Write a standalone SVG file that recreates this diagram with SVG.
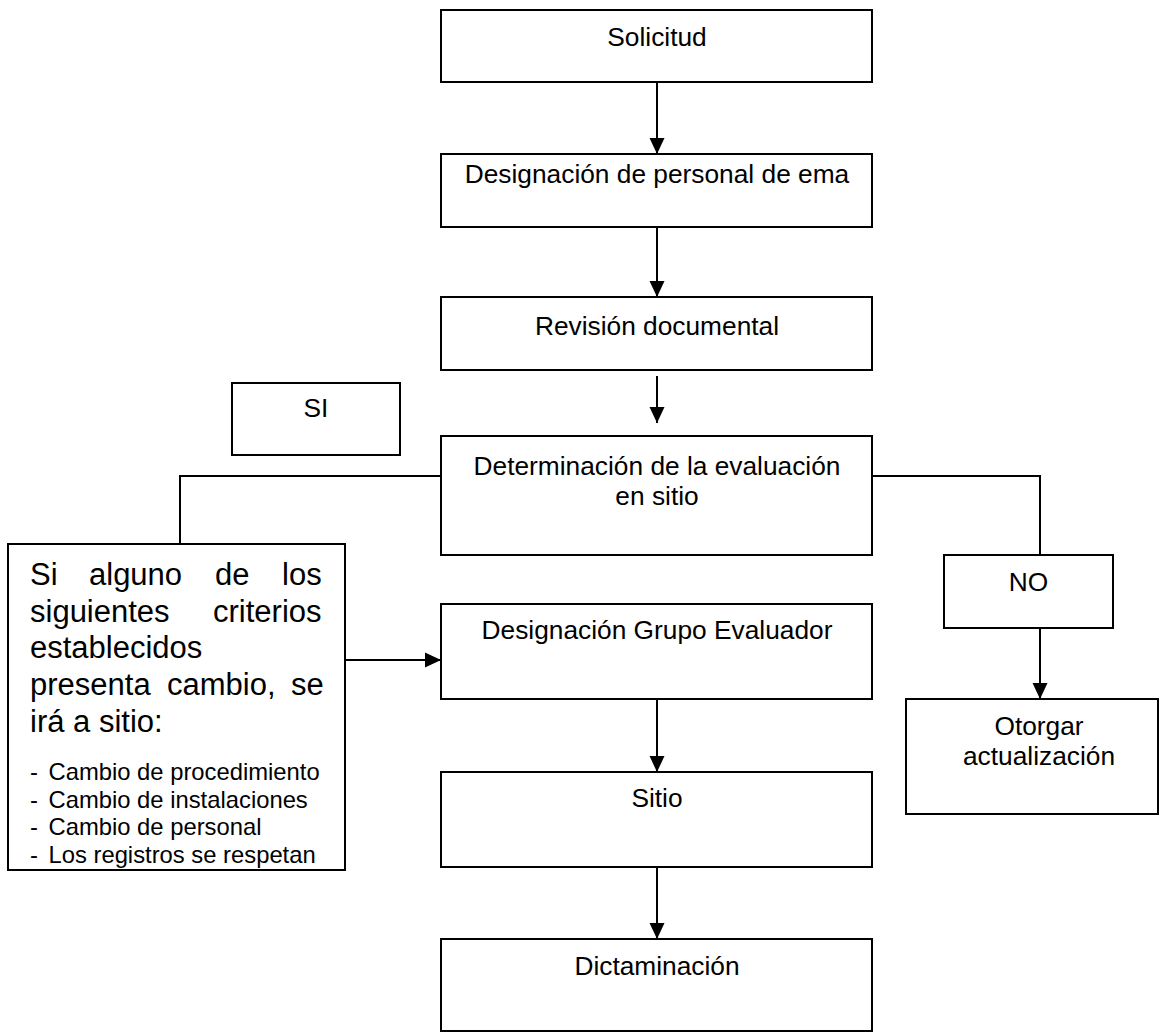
<svg xmlns="http://www.w3.org/2000/svg" width="1161" height="1032" viewBox="0 0 1161 1032">
  <style>
    .box { fill: #ffffff; stroke: #000000; stroke-width: 2; }
    .t { font-family: "Liberation Sans", Arial, sans-serif; font-size: 26.3px; fill: #000000; text-anchor: middle; }
    .big { font-family: "Liberation Sans", Arial, sans-serif; font-size: 31px; fill: #000000; }
    .sm { font-family: "Liberation Sans", Arial, sans-serif; font-size: 23.8px; fill: #000000; }
    .ln { fill: none; stroke: #000000; stroke-width: 2; }
    .arr { fill: none; stroke: #000000; stroke-width: 2; marker-end: url(#ah); }
  </style>
  <defs>
    <marker id="ah" markerUnits="userSpaceOnUse" markerWidth="17" markerHeight="17" viewBox="0 0 17 17" refX="16" refY="8.5" orient="auto">
      <path d="M0,1 L16,8.5 L0,16 Z" fill="#000000"/>
    </marker>
  </defs>
  <rect width="1161" height="1032" fill="#ffffff"/>

  <g id="connectors">
    <line class="arr" x1="657" y1="82" x2="657" y2="154"/>
    <line class="arr" x1="657" y1="227" x2="657" y2="297"/>
    <line class="arr" x1="657" y1="376" x2="657" y2="423"/>
    <polyline class="ln" points="441,476 180,476 180,544"/>
    <polyline class="ln" points="872,476 1040,476 1040,555"/>
    <line class="arr" x1="1040" y1="628" x2="1040" y2="699"/>
    <line class="arr" x1="345" y1="660" x2="441" y2="660"/>
    <line class="arr" x1="657" y1="699" x2="657" y2="772"/>
    <line class="arr" x1="657" y1="865" x2="657" y2="939"/>
  </g>

  <g id="solicitud">
    <rect class="box" x="441" y="10" width="431" height="72"/>
    <text class="t" x="657" y="46">Solicitud</text>
  </g>
  <g id="designacion-personal">
    <rect class="box" x="441" y="154" width="431" height="73"/>
    <text class="t" x="657" y="183">Designación de personal de ema</text>
  </g>
  <g id="revision">
    <rect class="box" x="441" y="297" width="431" height="73"/>
    <text class="t" x="657" y="335">Revisión documental</text>
  </g>
  <g id="si">
    <rect class="box" x="232" y="383" width="168" height="72"/>
    <text class="t" x="316" y="417">SI</text>
  </g>
  <g id="determinacion">
    <rect class="box" x="441" y="436" width="431" height="119"/>
    <text class="t" x="657" y="475">Determinación de la evaluación</text>
    <text class="t" x="657" y="505">en sitio</text>
  </g>
  <g id="criterios">
    <rect class="box" x="8" y="544" width="337" height="326"/>
    <text class="big" y="585"><tspan x="30">Si</tspan><tspan x="89">alguno</tspan><tspan x="215">de</tspan><tspan x="282">los</tspan></text>
    <text class="big" y="621.7"><tspan x="30">siguientes</tspan><tspan x="213">criterios</tspan></text>
    <text class="big" x="30" y="658.3">establecidos</text>
    <text class="big" y="695"><tspan x="30">presenta</tspan><tspan x="167">cambio,</tspan><tspan x="291">se</tspan></text>
    <text class="big" x="30" y="731.7">irá a sitio:</text>
    <text class="sm" x="30" y="780">-</text>
    <text class="sm" x="48.5" y="780">Cambio de procedimiento</text>
    <text class="sm" x="30" y="807.7">-</text>
    <text class="sm" x="48.5" y="807.7">Cambio de instalaciones</text>
    <text class="sm" x="30" y="835">-</text>
    <text class="sm" x="48.5" y="835">Cambio de personal</text>
    <text class="sm" x="30" y="863.3">-</text>
    <text class="sm" x="48.5" y="863.3">Los registros se respetan</text>
  </g>
  <g id="no">
    <rect class="box" x="944" y="555" width="169" height="73"/>
    <text class="t" x="1028.5" y="591">NO</text>
  </g>
  <g id="designacion-grupo">
    <rect class="box" x="441" y="604" width="431" height="95"/>
    <text class="t" x="657" y="639">Designación Grupo Evaluador</text>
  </g>
  <g id="otorgar">
    <rect class="box" x="906" y="699" width="252" height="115"/>
    <text class="t" x="1039" y="735">Otorgar</text>
    <text class="t" x="1039" y="765">actualización</text>
  </g>
  <g id="sitio">
    <rect class="box" x="441" y="772" width="431" height="95"/>
    <text class="t" x="657" y="807">Sitio</text>
  </g>
  <g id="dictaminacion">
    <rect class="box" x="441" y="939" width="431" height="92"/>
    <text class="t" x="657" y="975">Dictaminación</text>
  </g>
</svg>
